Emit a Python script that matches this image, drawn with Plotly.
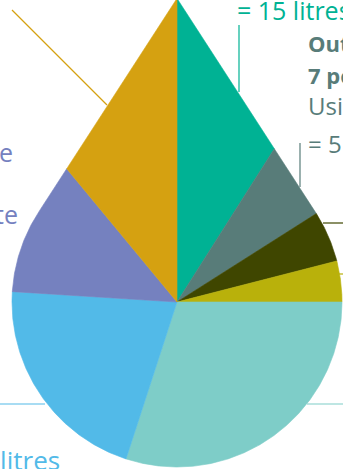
import math
import plotly.graph_objects as go

# ---- data (per cent of daily water use, clockwise from top) ----
categories = ["Toilet", "Outdoor", "Dishwasher", "Other", "Shower", "Taps", "Washing machine", "Bath"]
shares = [9, 7, 5, 4, 30, 21, 13, 11]
colors = ["#00B294", "#587C79", "#3F4600", "#B9B10B", "#7ECDC8", "#52BAE8", "#7581BF", "#D5A111"]

# ---- geometry helpers ----
W, H = 343, 469
CX, CY, R = 177, 302, 165          # pixel centre / radius of the drop's round part
D = 1.84                            # apex distance (in radii)
PHI = math.degrees(math.acos(1 / D))


def X(px):
    return (px - CX) / R


def Y(py):
    return (CY - py) / R


def radius(theta):
    t = ((theta + 180) % 360) - 180
    if abs(t) < PHI:
        return 1 / math.cos(math.radians(PHI - abs(t)))
    return 1.0


def slice_poly(a0, a1):
    angs = []
    a = a0
    while a < a1:
        angs.append(a)
        a += 0.5
    for b in (0, 360, PHI, 360 - PHI):
        if a0 < b < a1:
            angs.append(b)
    angs.append(a1)
    angs = sorted(set(angs))
    xs, ys = [0.0], [0.0]
    for t in angs:
        r = radius(t)
        xs.append(r * math.sin(math.radians(t)))
        ys.append(r * math.cos(math.radians(t)))
    xs.append(0.0)
    ys.append(0.0)
    return xs, ys


fig = go.Figure()
total = sum(shares)
cum = 0
for name, v, c in zip(categories, shares, colors):
    a0 = cum / total * 360
    cum += v
    a1 = cum / total * 360
    xs, ys = slice_poly(a0, a1)
    fig.add_trace(go.Scatter(x=xs, y=ys, mode="lines", fill="toself", fillcolor=c,
                             line=dict(color=c, width=0.6), name=name, hoverinfo="skip"))

# ---- leader lines ----
def seg(x0, y0, x1, y1, c, w=1.2):
    fig.add_shape(type="line", xref="x", yref="y", x0=X(x0), y0=Y(y0), x1=X(x1), y1=Y(y1),
                  line=dict(color=c, width=w))

seg(12, 10, 107, 105, colors[7])
seg(239, 25, 239, 92, colors[0])
seg(300, 143, 300, 187, colors[1])
seg(323, 223, 343, 223, colors[2])
seg(339, 274, 343, 274, colors[3])
seg(307, 404, 343, 404, colors[4])
seg(0, 404, 45, 404, colors[5])

FONT = "Open Sans"


def label(text, px, baseline, color, size, anchor="left", bold=False):
    t = f"<b>{text}</b>" if bold else text
    fig.add_annotation(x=X(px), y=Y(baseline - 0.3 * size), xref="x", yref="y", text=t,
                       showarrow=False, xanchor=anchor, yanchor="middle",
                       font=dict(family=FONT, size=size, color=color))

label("= 15 litres", 235, 17, colors[0], 25)
label("Outdoor", 306, 50, colors[1], 22, bold=True)
label("7 per cent", 306, 82, colors[1], 22, bold=True)
label("Using a hose", 306, 113, colors[1], 24)
label("= 5 litres", 306, 151, colors[1], 24)
label("Washing machine", 15, 159, colors[6], 25, anchor="right")
label("water waste", 20, 221, colors[6], 25, anchor="right")
label("= 35 litres", 62, 468, colors[5], 26, anchor="right")

fig.update_layout(
    width=W, height=H, margin=dict(l=0, r=0, t=0, b=0),
    paper_bgcolor="white", plot_bgcolor="white", showlegend=False,
    xaxis=dict(range=[X(0), X(W)], visible=False, fixedrange=True),
    yaxis=dict(range=[Y(H), Y(0)], visible=False, fixedrange=True),
)
fig.write_html("out.html", config={"displayModeBar": False},
               post_script="document.body.style.margin='0';document.body.style.overflow='hidden';")
